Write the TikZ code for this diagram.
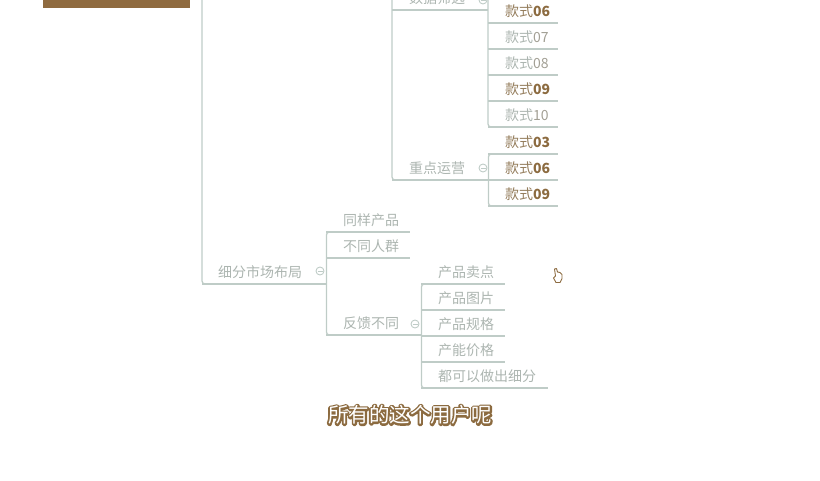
\documentclass[tikz,border=0pt]{standalone}
\usepackage{fontspec}
\setmainfont{Noto Sans CJK SC}
\definecolor{linec}{HTML}{BFCCC7}
\definecolor{greytext}{HTML}{ACB5B0}
\definecolor{browntext}{HTML}{8C6B40}
\definecolor{midtext}{HTML}{A29F94}
\definecolor{bar}{HTML}{8F6B40}
\tikzset{
  rowbox/.style={anchor=south west,inner sep=0pt,minimum height=26pt,text height=16pt,text depth=3pt,
    font=\fontsize{14pt}{15pt}\selectfont,text=greytext,align=left,
    execute at begin node=\hspace*{#1}},
  rowbox/.default=17pt,
  conn/.style={draw=linec,line width=1.3pt,rounded corners=3pt},
  collapsed/.style={circle,draw=linec,line width=.9pt,minimum size=8pt,inner sep=0pt,
    path picture={\draw[linec,line width=.8pt] ([xshift=-2.5pt]path picture bounding box.center) -- ([xshift=2.5pt]path picture bounding box.center);}},
}
\newcommand{\dk}[1]{{\color{browntext!75!greytext}款式}{\color{browntext}\bfseries #1}}
\newcommand{\lt}[1]{款式{\color{midtext}#1}}
\newcommand{\halotext}[1]{%
  \rlap{\special{pdf:code q 2 Tr 3.6 w 1 J 1 j 0.549 0.42 0.251 RG 0.549 0.42 0.251 rg}#1\special{pdf:code Q}}%
  {\color{white}#1}}
\begin{document}
\begin{tikzpicture}[x=1pt,y=-1pt]
\useasboundingbox (0,0) rectangle (820,480);
\clip (0,0) rectangle (820,480);
\fill[bar] (43,0) rectangle (190,7.5);

\coordinate (trunktop) at (202,0);
\coordinate (sievetop) at (392,0);
\coordinate (styletop) at (488,0);

% second level
\node[rowbox,text width=96pt] (sieve) at (392,10) {数据筛选};
\node[rowbox,text width=96pt] (focus) at (392,180) {重点运营};
\node[rowbox=16pt,text width=124pt] (market) at (202,284) {细分市场布局};
% style rows
\node[rowbox,text width=70pt] (a06) at (488,23) {\dk{06}};
\node[rowbox,text width=70pt] (a07) at (488,49) {\lt{07}};
\node[rowbox,text width=70pt] (a08) at (488,75) {\lt{08}};
\node[rowbox,text width=70pt] (a09) at (488,101) {\dk{09}};
\node[rowbox,text width=70pt] (a10) at (488,127) {\lt{10}};
\node[rowbox,text width=70pt] (b03) at (488,154) {\dk{03}};
\node[rowbox,text width=70pt] (b06) at (488,180) {\dk{06}};
\node[rowbox,text width=70pt] (b09) at (488,206) {\dk{09}};
% market rows
\node[rowbox,text width=84pt] (same) at (326,232) {同样产品};
\node[rowbox,text width=84pt] (diff) at (326,258) {不同人群};
\node[rowbox,text width=95pt] (feed) at (326,335) {反馈不同};
\node[rowbox,text width=84pt] (p1) at (421,284) {产品卖点};
\node[rowbox,text width=84pt] (p2) at (421,310) {产品图片};
\node[rowbox,text width=84pt] (p3) at (421,336) {产品规格};
\node[rowbox,text width=84pt] (p4) at (421,362) {产能价格};
\node[rowbox,text width=127pt] (p5) at (421,388) {都可以做出细分};

% underlines
\foreach \n in {sieve,focus,market,a06,a07,a08,a09,a10,b03,b06,b09,same,diff,feed,p1,p2,p3,p4,p5}
  \draw[conn] (\n.south west) -- (\n.south east);

% branches
\draw[conn] (trunktop) |- (market.south);
\draw[conn] (sievetop) |- (focus.south);
\draw[conn] (styletop) |- (a10.south);
\draw[conn] (focus.south east) |- (b03.south);
\draw[conn] (focus.south east) |- (b09.south);
\draw[conn] (market.south east) |- (same.south);
\draw[conn] (market.south east) |- (feed.south);
\draw[conn] (feed.south east) |- (p1.south);
\draw[conn] (feed.south east) |- (p5.south);

% collapse markers
\node[collapsed] (cm1) at (483,168) {};
\node[collapsed] (cm2) at (320,271) {};
\node[collapsed] (cm3) at (415,324) {};
\node[collapsed] (cm4) at (483,0) {};

% cursor
\draw[browntext,line width=.9pt,fill=white,line join=round]
  (554.5,269) -- (556.5,268.5) -- (557.5,272) -- (560,272.5) -- (562,274.5) -- (562,278.5)
  -- (560,282.5) -- (556,282.5) -- (553.5,278) -- (555.5,276) -- cycle;

% subtitle
\node[inner sep=0pt,font=\fontsize{20.5pt}{22pt}\selectfont] (sub) at (410,415) {\halotext{所有的这个用户呢}};
\end{tikzpicture}
\end{document}
